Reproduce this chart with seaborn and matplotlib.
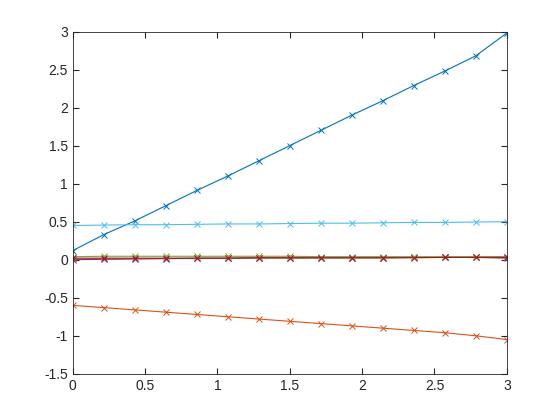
import numpy as np
import pandas as pd
import matplotlib
matplotlib.use("Agg")
import matplotlib.pyplot as plt
import seaborn as sns

x = [0, 0.2143, 0.4286, 0.6429, 0.8571, 1.0714, 1.2857, 1.5, 1.7143, 1.9286, 2.1429, 2.3571, 2.5714, 2.7857, 3.0]
s_blue = [0.12, 0.33, 0.51, 0.71, 0.91, 1.10, 1.30, 1.50, 1.70, 1.90, 2.09, 2.29, 2.48, 2.68, 2.98]
s_orange = [-0.60, -0.63, -0.66, -0.69, -0.72, -0.75, -0.78, -0.81, -0.84, -0.87, -0.90, -0.93, -0.96, -1.00, -1.05]
s_yellow = [0.01, 0.01, 0.012, 0.014, 0.016, 0.018, 0.02, 0.022, 0.024, 0.026, 0.028, 0.03, 0.032, 0.034, 0.04]
s_purple = [0.0, 0.005, 0.01, 0.015, 0.02, 0.02, 0.025, 0.025, 0.025, 0.025, 0.025, 0.03, 0.03, 0.03, 0.02]
s_green = [0.04, 0.045, 0.045, 0.045, 0.045, 0.045, 0.045, 0.045, 0.04, 0.04, 0.04, 0.04, 0.04, 0.04, 0.04]
s_lightblue = [0.45, 0.455, 0.46, 0.46, 0.465, 0.47, 0.47, 0.475, 0.48, 0.48, 0.485, 0.49, 0.49, 0.495, 0.50]
s_red = [0.02, 0.02, 0.02, 0.02, 0.02, 0.02, 0.025, 0.025, 0.025, 0.025, 0.025, 0.025, 0.03, 0.03, 0.03]

series = [s_blue, s_orange, s_yellow, s_purple, s_green, s_lightblue, s_red]
colors = ["#0072BD", "#D95319", "#EDB120", "#7E2F8E", "#77AC30", "#4DBEEE", "#A2142F"]

sns.set_style("white")
plt.rcParams['font.family'] = ['Liberation Sans', 'DejaVu Sans']
fig = plt.figure(figsize=(5.6, 4.2), dpi=100)
ax = fig.add_axes([0.13, 0.11, 0.775, 0.815])

for vals, c in zip(series, colors):
    df = pd.DataFrame({"x": x, "y": vals})
    sns.lineplot(data=df, x="x", y="y", color=c, marker="x", markersize=5,
                 markeredgecolor=c, markeredgewidth=0.7, linewidth=0.8, ax=ax)

ax.set_xlim(0, 3)
ax.set_ylim(-1.5, 3)
ax.set_xticks(np.arange(0, 3.01, 0.5))
ax.set_yticks(np.arange(-1.5, 3.01, 0.5))
ax.set_xticklabels(["0", "0.5", "1", "1.5", "2", "2.5", "3"])
ax.set_yticklabels(["-1.5", "-1", "-0.5", "0", "0.5", "1", "1.5", "2", "2.5", "3"])
ax.set_xlabel("")
ax.set_ylabel("")
ax.tick_params(direction="in", length=4, colors="#262626", labelsize=10, top=True, right=True,
               bottom=True, left=True)
for sp in ax.spines.values():
    sp.set_color("#262626")
    sp.set_linewidth(0.6)

fig.savefig("out.png", dpi=100)
